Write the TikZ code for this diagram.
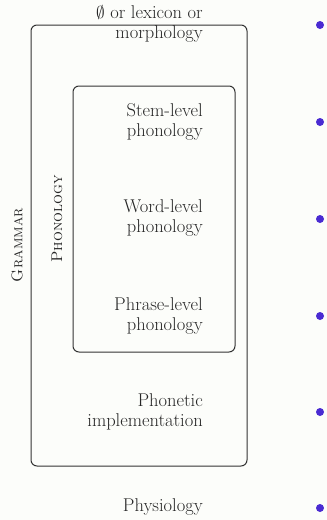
\documentclass[tikz,border=0pt]{standalone}
\definecolor{bg}{HTML}{FCFDFA}
\definecolor{dotc}{HTML}{4A2BD2}
\definecolor{linec}{HTML}{333333}
\begin{document}
\begin{tikzpicture}[x=1pt,y=-1pt,
  lbl/.style={anchor=east,align=right,font=\fontsize{18.5}{20}\selectfont,text=black!85,inner sep=0pt},
  side/.style={rotate=90,font=\fontsize{15.5}{17}\selectfont,text=black!85,inner sep=0pt},
  box/.style={draw=linec,line width=1pt,rounded corners=6pt},
  dot/.style={circle,fill=dotc,inner sep=0pt,minimum size=8pt}]
\fill[bg] (0,0) rectangle (327,520);
\useasboundingbox (0,0) rectangle (327,520);
\draw[box] (31,25) rectangle (247,466);
\draw[box] (73,86) rectangle (235,352);
\node[lbl] (lex) at (203,24) {$\emptyset$ or lexicon or\\morphology};
\node[lbl] (stem) at (203,122) {Stem-level\\phonology};
\node[lbl] (word) at (203,218) {Word-level\\phonology};
\node[lbl] (phrase) at (203,316) {Phrase-level\\phonology};
\node[lbl] (phon) at (203,412) {Phonetic\\implementation};
\node[lbl] (phys) at (203,507) {Physiology};
\node[side] (gram) at (17,245) {\textsc{Grammar}};
\node[side] (phonol) at (57,219) {\textsc{Phonology}};
\node[dot] (d1) at (320,25) {};
\node[dot] (d2) at (320,122) {};
\node[dot] (d3) at (320,219) {};
\node[dot] (d4) at (320,316) {};
\node[dot] (d5) at (320,412) {};
\node[dot] (d6) at (320,508) {};
\end{tikzpicture}
\end{document}
